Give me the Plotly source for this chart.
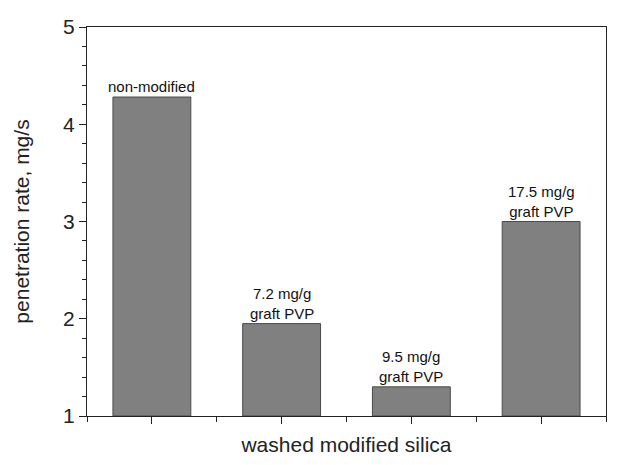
import plotly.graph_objects as go

categories = [0, 1, 2, 3]
rates = [4.28, 1.95, 1.30, 3.00]
bar_labels = ["non-modified", "7.2 mg/g<br>graft PVP", "9.5 mg/g<br>graft PVP", "17.5 mg/g<br>graft PVP"]
y_ticks = [1, 2, 3, 4, 5]

fig = go.Figure()
fig.add_trace(go.Bar(
    x=categories, y=[r - 1 for r in rates], base=1, width=0.6,
    marker=dict(color="#808080", line=dict(color="#4a4a4a", width=1)),
    hoverinfo="skip",
))

for c, r, t in zip(categories, rates, bar_labels):
    fig.add_annotation(x=c, y=r, text=t, showarrow=False, yanchor="bottom",
                       yshift=0, font=dict(family="Liberation Sans, Arial", size=15, color="#111"),
                       align="center")

fig.update_layout(
    width=617, height=465,
    margin=dict(l=79, r=19, t=19, b=57),
    plot_bgcolor="white", paper_bgcolor="white",
    showlegend=False,
    font=dict(family="Liberation Sans, Arial", color="#222"),
    xaxis=dict(range=[-0.5, 3.5], tickmode="linear", tick0=categories[0], dtick=1,
               showticklabels=False,
               ticks="outside", ticklen=7, tickwidth=1.4, tickcolor="#222",
               minor=dict(dtick=0.5, tick0=0, ticks="outside", ticklen=5, tickwidth=1.4, tickcolor="#222", showgrid=False),
               showline=True, linecolor="#222", linewidth=1.4, mirror=True,
               showgrid=False, zeroline=False, automargin=False,
               title=dict(text="washed modified silica", font=dict(size=21), standoff=14)),
    yaxis=dict(range=[y_ticks[0], y_ticks[-1]], tickmode="linear", tick0=y_ticks[0], dtick=1,
               ticks="outside", ticklen=7, tickwidth=1.4, tickcolor="#222",
               minor=dict(dtick=0.2, tick0=1, ticks="outside", ticklen=4, tickwidth=1.4, tickcolor="#222", showgrid=False),
               showline=True, linecolor="#222", linewidth=1.4, mirror=True,
               showgrid=False, zeroline=False, tickfont=dict(size=21), automargin=False,
               title=dict(text="penetration rate, mg/s", font=dict(size=21), standoff=27)),
)

fig.write_html("out.html")
